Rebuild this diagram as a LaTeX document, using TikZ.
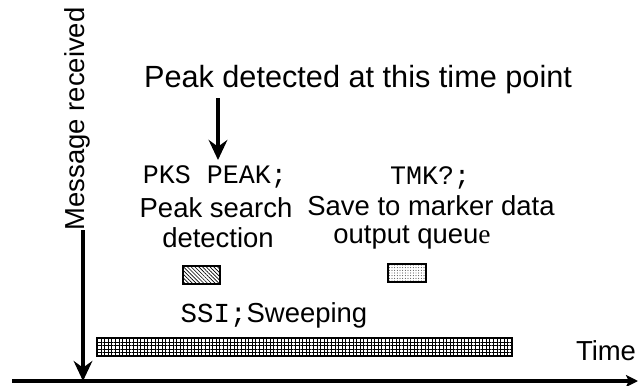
\documentclass[tikz,border=0pt]{standalone}
\usepackage{fontspec}
\setmainfont{Liberation Sans}
\setmonofont{Liberation Mono}
\newfontfamily\serifface{Liberation Serif}
\usetikzlibrary{patterns.meta,arrows.meta}

\begin{document}
\begin{tikzpicture}
  [x=0.75pt,y=-0.75pt,
   lbl/.style={inner sep=0pt,anchor=base,font=\fontsize{20.6}{24}\selectfont},
   cmd/.style={inner sep=0pt,anchor=base,font=\fontsize{20}{24}\selectfont\ttfamily},
   bar/.style={draw,line width=1.5pt,inner sep=0pt,minimum height=13.5pt},
   tip/.style={-{Stealth[length=15pt,width=14pt,inset=5pt]}}]
  \useasboundingbox (0,0) rectangle (638,385);

  % labels
  \node[lbl,font=\fontsize{23}{27}\selectfont] (top) at (358,87) {Peak detected at this time point};
  \node[lbl,rotate=90] (msg) at (84,119) {Message received};
  \node[cmd] (pks) at (215,183) {PKS PEAK;};
  \node[cmd] (tmk) at (430,184) {TMK?;};
  \node[lbl] (srch) at (216,217) {Peak search};
  \node[lbl] (det)  at (218,247) {detection};
  \node[lbl] (save) at (431,215) {Save to marker data};
  \node[lbl] (outq) at (412,243) {output queu{\serifface e}};
  \node[lbl] (ssi)  at (274,322) {{\ttfamily SSI;}Sweeping};
  \node[lbl] (time) at (606,360) {Time};

  % activity bars
  \node[bar,minimum width=27.75pt,pattern={Lines[angle=-45,distance=2pt,line width=0.5pt]}] (pkbox) at (201.5,275) {};
  \node[bar,minimum width=28.5pt,pattern={Dots[distance=2pt,radius=0.35pt]}] (svbox) at (407,273) {};
  \node[bar,minimum width=311.25pt,pattern={Hatch[angle=0,distance=2.7pt,line width=0.35pt]}] (swbar) at (304.5,347) {};

  % arrows and time axis
  \coordinate (m0) at (83,230);
  \coordinate (m1) at (83,381);
  \coordinate (p0) at (218,98);
  \coordinate (p1) at (218,160);
  \coordinate (t0) at (12,381);
  \coordinate (t1) at (638,381);
  \draw[tip,line width=2.5pt] (m0) -- (m1);
  \draw[tip,line width=2.5pt] (p0) -- (p1);
  \draw[-{Stealth[length=9pt,width=9pt,inset=2pt]},line width=2.5pt] (t0) -- (t1);

\end{tikzpicture}
\end{document}
